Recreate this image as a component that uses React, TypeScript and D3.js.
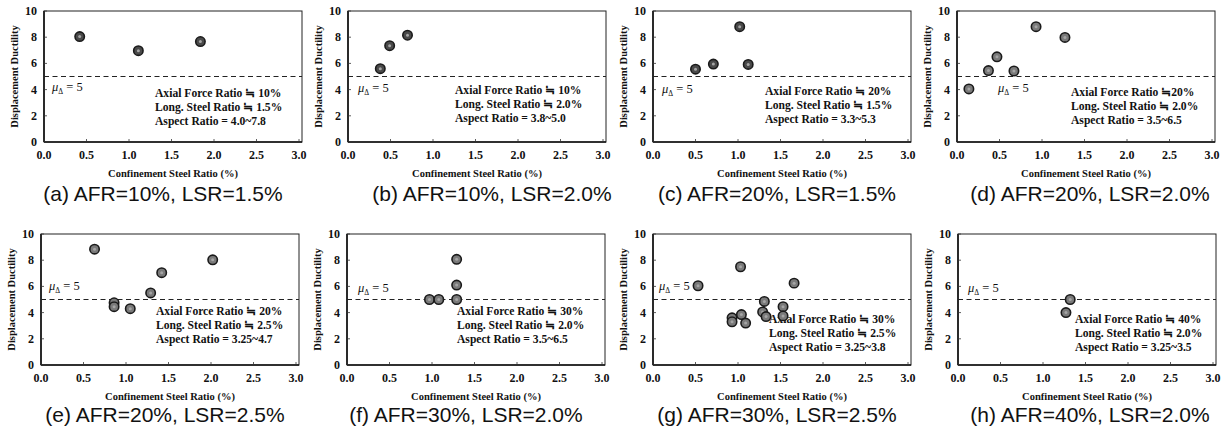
import React from "react";
import * as d3 from "d3";

// ---- data ----
const captions = [
  "(a) AFR=10%, LSR=1.5%",
  "(b) AFR=10%, LSR=2.0%",
  "(c) AFR=20%, LSR=1.5%",
  "(d) AFR=20%, LSR=2.0%",
  "(e) AFR=20%, LSR=2.5%",
  "(f) AFR=30%, LSR=2.0%",
  "(g) AFR=30%, LSR=2.5%",
  "(h) AFR=40%, LSR=2.0%",
];
const axialRatios = ["≒ 10%", "≒ 10%", "≒ 20%", "≒20%", "≒ 20%", "≒ 30%", "≒ 30%", "≒ 40%"];
const longRatios = ["≒ 1.5%", "≒ 2.0%", "≒ 1.5%", "≒ 2.0%", "≒ 2.5%", "≒ 2.0%", "≒ 2.5%", "≒ 2.0%"];
const aspectRanges = ["4.0~7.8", "3.8~5.0", "3.3~5.3", "3.5~6.5", "3.25~4.7", "3.5~6.5", "3.25~3.8", "3.25~3.5"];
const xTickValues = [0, 0.5, 1, 1.5, 2, 2.5, 3];
const yTickValues = [0, 2, 4, 6, 8, 10];
const targetDuctility = 5;

const steelA = [0.42, 1.11, 1.84];
const ductA = [8.05, 6.97, 7.67];
const steelB = [0.38, 0.49, 0.7];
const ductB = [5.6, 7.35, 8.15];
const steelC = [0.5, 0.71, 1.02, 1.12];
const ductC = [5.56, 5.95, 8.8, 5.92];
const steelD = [0.14, 0.37, 0.47, 0.67, 0.93, 1.27];
const ductD = [4.05, 5.45, 6.5, 5.42, 8.8, 7.98];
const steelE = [0.63, 0.86, 0.86, 1.05, 1.29, 1.42, 2.02];
const ductE = [8.84, 4.75, 4.45, 4.3, 5.5, 7.05, 8.03];
const steelF = [0.97, 1.08, 1.29, 1.29, 1.29];
const ductF = [5.0, 5.0, 5.0, 6.1, 8.07];
const steelG = [0.53, 1.03, 1.66, 1.31, 0.93, 0.93, 1.04, 1.09, 1.29, 1.33, 1.53, 1.53];
const ductG = [6.05, 7.5, 6.25, 4.85, 3.6, 3.3, 3.85, 3.2, 4.05, 3.7, 4.45, 3.75];
const steelH = [1.32, 1.27];
const ductH = [5.0, 4.0];

const steelSets = [steelA, steelB, steelC, steelD, steelE, steelF, steelG, steelH];
const ductSets = [ductA, ductB, ductC, ductD, ductE, ductF, ductG, ductH];

// ---- layout ----
const PW = 258;
const PH = 131;
const layout = [
  { left: 44, top: 11, capX: 163, capY: 201, ann: [111, 86], mu: [8, 80] },
  { left: 348, top: 11, capX: 492, capY: 201, ann: [107, 83], mu: [10, 81] },
  { left: 653, top: 11, capX: 777, capY: 201, ann: [112, 84], mu: [9, 82] },
  { left: 957, top: 11, capX: 1090, capY: 201, ann: [114, 85], mu: [41, 81] },
  { left: 41, top: 234, capX: 165, capY: 422, ann: [115, 81], mu: [8, 56] },
  { left: 347, top: 234, capX: 466, capY: 422, ann: [110, 81], mu: [11, 58] },
  { left: 653, top: 234, capX: 777, capY: 422, ann: [116, 89], mu: [6, 56] },
  { left: 958, top: 234, capX: 1090, capY: 422, ann: [117, 89], mu: [10, 58] },
];

const serif = "'Liberation Serif', 'Times New Roman', serif";
const sans = "'Liberation Sans', Arial, sans-serif";

function Panel({ i }: { i: number }) {
  const L = layout[i];
  const x = d3.scaleLinear().domain([0, 3]).range([L.left, L.left + PW - 3]);
  const y = d3.scaleLinear().domain([0, 10]).range([L.top + PH, L.top]);
  const xs = steelSets[i];
  const ys = ductSets[i];
  const bottom = L.top + PH;
  const annX = L.left + L.ann[0];
  const annY = L.top + L.ann[1];
  const dark = i < 3;
  return (
    <g>
      {/* plot box */}
      <rect x={L.left} y={L.top} width={PW} height={PH} fill="#fff" stroke="#222" strokeWidth={1} />
      <line x1={L.left} x2={L.left} y1={L.top} y2={bottom} stroke="#111" strokeWidth={1.6} />
      <line x1={L.left} x2={L.left + PW} y1={bottom} y2={bottom} stroke="#111" strokeWidth={1.6} />
      {/* ticks */}
      {xTickValues.map((t) => (
        <g key={"x" + t}>
          <line x1={x(t)} x2={x(t)} y1={bottom} y2={bottom - 3} stroke="#333" strokeWidth={0.8} />
          <text x={x(t)} y={bottom + 17} textAnchor="middle" fontFamily={serif} fontWeight="bold" fontSize={12} fill="#111">
            {d3.format(".1f")(t)}
          </text>
        </g>
      ))}
      {yTickValues.map((t) => (
        <g key={"y" + t}>
          <line x1={L.left} x2={L.left + 3} y1={y(t)} y2={y(t)} stroke="#333" strokeWidth={0.8} />
          <text x={L.left - 7} y={y(t) + 4} textAnchor="end" fontFamily={serif} fontWeight="bold" fontSize={12} fill="#111">
            {t}
          </text>
        </g>
      ))}
      {/* axis titles */}
      <text x={L.left + PW / 2} y={bottom + 35} textAnchor="middle" fontFamily={serif} fontWeight="bold" fontSize={10.5} fill="#111">
        Confinement Steel Ratio (%)
      </text>
      <text
        transform={`translate(${L.left - 26},${L.top + PH / 2}) rotate(-90)`}
        textAnchor="middle"
        fontFamily={serif}
        fontWeight="bold"
        fontSize={10.5}
        fill="#111"
      >
        Displacement Ductility
      </text>
      {/* target line */}
      <line
        x1={L.left}
        x2={L.left + PW}
        y1={y(targetDuctility)}
        y2={y(targetDuctility)}
        stroke="#222"
        strokeWidth={1.1}
        strokeDasharray="5,3.5"
      />
      <text x={L.left + L.mu[0]} y={L.top + L.mu[1]} fontFamily={serif} fontSize={12.5} fill="#111">
        <tspan fontStyle="italic">μ</tspan>
        <tspan fontSize={7.5} dy={3}>Δ</tspan>
        <tspan dy={-3}>{" = " + targetDuctility}</tspan>
      </text>
      {/* annotation */}
      <g fontFamily={serif} fontWeight="bold" fontSize={11.6} fill="#111">
        <text x={annX} y={annY}>{"Axial Force Ratio " + axialRatios[i]}</text>
        <text x={annX} y={annY + 14}>{"Long. Steel Ratio " + longRatios[i]}</text>
        <text x={annX} y={annY + 28}>{"Aspect Ratio = " + aspectRanges[i]}</text>
      </g>
      {/* points */}
      {xs.map((v, k) => (
        <g key={"p" + k}>
          <circle cx={x(v)} cy={y(ys[k])} r={4.7} fill={dark ? "#4a4a4a" : "#7a7a7a"} stroke="#1a1a1a" strokeWidth={1.6} />
          <circle cx={x(v)} cy={y(ys[k])} r={1.5} fill="#a5a5a5" />
        </g>
      ))}
      {/* caption */}
      <text x={L.capX} y={L.capY} textAnchor="middle" fontFamily={sans} fontSize={21} fill="#111">
        {captions[i]}
      </text>
    </g>
  );
}

export default function App() {
  return (
    <div style={{ position: "absolute", left: 0, top: 0 }}>
      <svg width={1228} height={437} style={{ display: "block", background: "#fff" }}>
        <rect width={1228} height={437} fill="#fff" />
        {captions.map((_, i) => (
          <Panel key={i} i={i} />
        ))}
      </svg>
    </div>
  );
}
